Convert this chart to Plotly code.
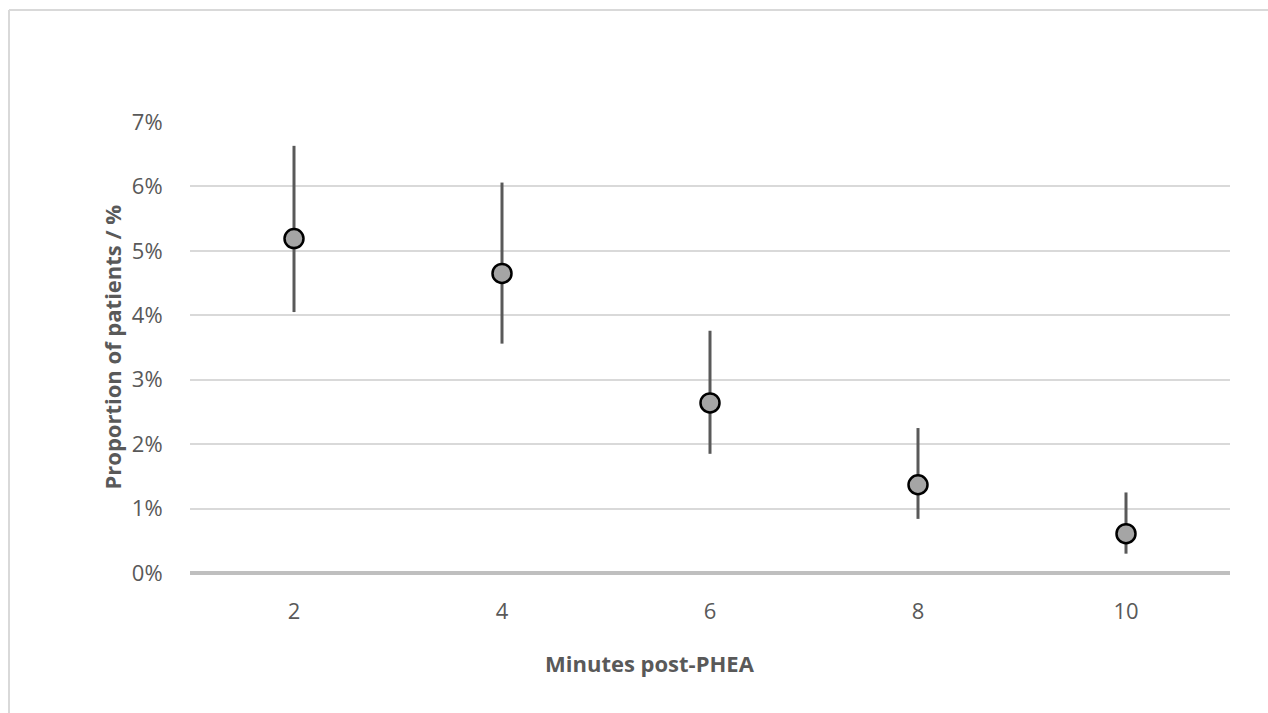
import plotly.graph_objects as go

minutes = [2, 4, 6, 8, 10]
proportion = [0.0519, 0.0465, 0.0264, 0.0137, 0.0061]
upper_ci = [0.0663, 0.0606, 0.0376, 0.0225, 0.0125]
lower_ci = [0.0405, 0.0356, 0.0185, 0.0084, 0.0030]
y_ticks = [0, 0.01, 0.02, 0.03, 0.04, 0.05, 0.06, 0.07]
x_title = "Minutes post-PHEA"
y_title = "Proportion of patients / %"

err_plus = [u - p for u, p in zip(upper_ci, proportion)]
err_minus = [p - l for p, l in zip(proportion, lower_ci)]

FONT = "Open Sans"
TXT = "#595959"
FS = 22

fig = go.Figure()
fig.add_trace(go.Scatter(
    x=minutes, y=proportion, mode="markers",
    marker=dict(size=19, color="#a5a5a5", line=dict(color="#000000", width=2.5)),
    error_y=dict(type="data", symmetric=False, array=err_plus, arrayminus=err_minus,
                 color="#595959", thickness=3, width=0),
    showlegend=False, hoverinfo="skip",
))

fig.update_layout(
    width=1268, height=713,
    margin=dict(l=190, r=38, t=122, b=140),
    paper_bgcolor="white", plot_bgcolor="white",
    font=dict(family=FONT, color=TXT, size=FS),
    xaxis=dict(range=[1, 11], tickvals=minutes, ticktext=[str(m) for m in minutes],
               showgrid=False, zeroline=False, showline=False,
               ticks="outside", ticklen=19, tickcolor="rgba(0,0,0,0)",
               tickfont=dict(size=FS, color=TXT, family=FONT)),
    yaxis=dict(range=[0, 0.07], tickvals=y_ticks, tickformat=".0%",
               showgrid=True, gridcolor="#d9d9d9", gridwidth=2,
               zeroline=True, zerolinecolor="#bfbfbf", zerolinewidth=4,
               showline=False, ticks="outside", ticklen=22, tickcolor="rgba(0,0,0,0)",
               tickfont=dict(size=FS, color=TXT, family=FONT)),
    annotations=[
        dict(text="<b>" + x_title + "</b>", xref="paper", yref="paper",
             x=(650 - 190) / 1040, y=-(663 - 573) / 451, xanchor="center", yanchor="middle",
             showarrow=False, font=dict(size=FS, color=TXT, family=FONT)),
        dict(text="<b>" + y_title + "</b>", xref="paper", yref="paper",
             x=-(190 - 111) / 1040, y=0.5, xanchor="center", yanchor="middle", textangle=-90,
             showarrow=False, font=dict(size=FS, color=TXT, family=FONT)),
    ],
)

# Chart-area border (top and left edges, as in the reference)
fig.add_shape(type="line", xref="paper", yref="paper",
              x0=-(190 - 9) / 1040, x1=(1268 - 190) / 1040,
              y0=(573 - 10) / 451, y1=(573 - 10) / 451,
              line=dict(color="#d9d9d9", width=2))
fig.add_shape(type="line", xref="paper", yref="paper",
              x0=-(190 - 9) / 1040, x1=-(190 - 9) / 1040,
              y0=(573 - 10) / 451, y1=(573 - 713) / 451,
              line=dict(color="#d9d9d9", width=2))

fig.write_html("out.html")
